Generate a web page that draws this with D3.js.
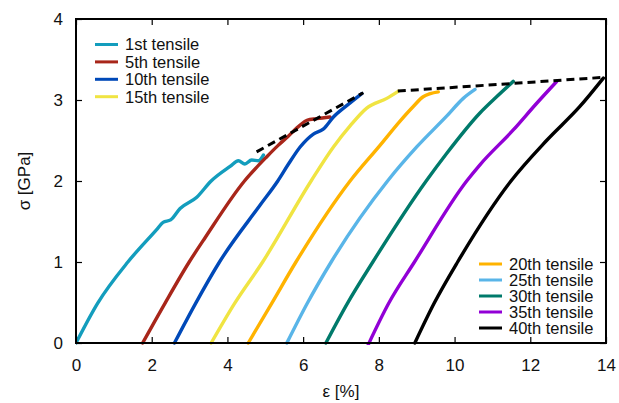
<!DOCTYPE html>
<html>
<head>
  <meta charset="utf-8">
  <title>Tensile cycles</title>
  <script src="https://unpkg.com/d3@7.8.2/dist/d3.min.js"></script>
  <style>
    body { margin: 0; background: #fff; }
    text { font-family: "Liberation Sans", Arial, sans-serif; fill: #111; }
  </style>
</head>
<body>
<script>

  // strain [%], stress [GPa] pairs
  const t1 = [[0, 0], [0.57, 0.49], [1.37, 1.0], [2.13, 1.4], [2.3, 1.49], [2.5, 1.52], [2.75, 1.66],
    [3.19, 1.8], [3.57, 2.0], [4.07, 2.18], [4.29, 2.25], [4.46, 2.21], [4.64, 2.26], [4.82, 2.25], [4.95, 2.32]];
  const t5 = [[1.76, 0], [2.35, 0.49], [2.99, 1.0], [3.41, 1.3], [4.45, 2.0], [5.04, 2.3], [5.34, 2.44],
    [5.6, 2.55], [5.92, 2.69], [6.1, 2.75], [6.36, 2.77], [6.71, 2.79]];
  const t10 = [[2.6, 0], [3.16, 0.49], [3.79, 1.0], [4.86, 1.7], [5.33, 2.0], [5.6, 2.2], [5.92, 2.42],
    [6.27, 2.58], [6.53, 2.64], [6.8, 2.79], [7.15, 2.93], [7.55, 3.08]];
  const t15 = [[3.57, 0], [4.19, 0.49], [4.93, 1.0], [6.21, 2.0], [6.8, 2.42], [7.24, 2.68], [7.68, 2.9],
    [8.21, 3.02], [8.52, 3.11]];
  const t20 = [[4.55, 0], [5.17, 0.49], [5.81, 1.0], [7.24, 2.0], [8.03, 2.44], [8.56, 2.74],
    [8.91, 2.92], [9.17, 3.04], [9.57, 3.1]];
  const t25 = [[5.57, 0], [6.11, 0.49], [6.74, 1.0], [8.23, 2.0], [9.0, 2.42], [9.79, 2.8],
    [10.23, 3.02], [10.54, 3.13]];
  const t30 = [[6.6, 0], [7.17, 0.49], [7.84, 1.0], [9.25, 2.0], [9.79, 2.34], [10.67, 2.84],
    [11.11, 3.04], [11.55, 3.23]];
  const t35 = [[7.72, -0.02], [8.26, 0.49], [8.94, 1.0], [10.32, 2.0], [10.67, 2.2], [11.55, 2.63],
    [12.17, 2.96], [12.7, 3.23]];
  const t40 = [[8.95, 0], [9.46, 0.49], [10.08, 1.0], [11.49, 2.0], [12.43, 2.5], [13.31, 2.92], [13.93, 3.27]];

  const series = [t1, t5, t10, t15, t20, t25, t30, t35, t40];
  const labels = ["1st tensile", "5th tensile", "10th tensile", "15th tensile", "20th tensile",
    "25th tensile", "30th tensile", "35th tensile", "40th tensile"];
  const colors = ["#139dbd", "#a8261a", "#0049b8", "#f0e442", "#ffb300", "#59b5e8", "#007a6b", "#9200d6", "#000000"];

  // dashed envelope lines
  const envelopes = [
    [[4.77, 2.36], [7.59, 3.09]],
    [[8.5, 3.11], [13.96, 3.28]]
  ];

  const xTicks = [0, 2, 4, 6, 8, 10, 12, 14];
  const yTicks = [0, 1, 2, 3, 4];

  const width = 619, height = 403;
  const margin = { left: 76, right: 13, top: 19, bottom: 60 };

  const svg = d3.select("body").append("svg")
    .attr("width", width)
    .attr("height", height);

  const x = d3.scaleLinear().domain([0, 14]).range([margin.left, width - margin.right]);
  const y = d3.scaleLinear().domain([0, 4]).range([height - margin.bottom, margin.top]);

  const plot = svg.append("g");

  plot.append("clipPath").attr("id", "clip")
    .append("rect")
    .attr("x", x(0)).attr("y", y(4))
    .attr("width", x(14) - x(0)).attr("height", y(0) - y(4) + 2);

  const line = d3.line()
    .x(d => x(d[0]))
    .y(d => y(d[1]))
    .curve(d3.curveMonotoneX);

  plot.append("g").attr("clip-path", "url(#clip)")
    .selectAll("path")
    .data(series)
    .enter()
    .append("path")
    .attr("d", line)
    .attr("fill", "none")
    .attr("stroke", (d, i) => colors[i])
    .attr("stroke-width", 3.4)
    .attr("stroke-linejoin", "round")
    .attr("stroke-linecap", "round");

  plot.selectAll("path.env")
    .data(envelopes)
    .enter()
    .append("path")
    .attr("class", "env")
    .attr("d", d3.line().x(d => x(d[0])).y(d => y(d[1])))
    .attr("fill", "none")
    .attr("stroke", "#000")
    .attr("stroke-width", 3)
    .attr("stroke-dasharray", "8,5");

  // axes: ticks on all four sides, pointing inward
  const tk = 6;
  svg.append("g")
    .attr("transform", `translate(0,${y(0)})`)
    .call(d3.axisBottom(x).tickValues(xTicks).tickSize(-tk).tickPadding(tk + 10))
    .call(g => g.selectAll("text").attr("font-size", 17))
    .call(g => g.select(".domain").remove());
  svg.append("g")
    .attr("transform", `translate(0,${y(4)})`)
    .call(d3.axisTop(x).tickValues(xTicks).tickSize(-tk).tickFormat(""))
    .call(g => g.select(".domain").remove());
  svg.append("g")
    .attr("transform", `translate(${x(0)},0)`)
    .call(d3.axisLeft(y).tickValues(yTicks).tickFormat(d3.format("d")).tickSize(-tk).tickPadding(tk + 7))
    .call(g => g.selectAll("text").attr("font-size", 17))
    .call(g => g.select(".domain").remove());
  svg.append("g")
    .attr("transform", `translate(${x(14)},0)`)
    .call(d3.axisRight(y).tickValues(yTicks).tickSize(-tk).tickFormat(""))
    .call(g => g.select(".domain").remove());

  svg.selectAll(".tick line").attr("stroke", "#000").attr("stroke-width", 1.2);
  svg.selectAll(".tick text").attr("fill", "#111").style("font-family", "'Liberation Sans', Arial, sans-serif");

  svg.append("rect")
    .attr("x", x(0)).attr("y", y(4))
    .attr("width", x(14) - x(0)).attr("height", y(0) - y(4))
    .attr("fill", "none")
    .attr("stroke", "#000")
    .attr("stroke-width", 2);

  // axis titles
  svg.append("text")
    .attr("x", (x(0) + x(14)) / 2)
    .attr("y", 397)
    .attr("text-anchor", "middle")
    .attr("font-size", 17)
    .text("ε [%]");
  svg.append("text")
    .attr("transform", `translate(30,${(y(0) + y(4)) / 2}) rotate(-90)`)
    .attr("text-anchor", "middle")
    .attr("font-size", 17)
    .text("σ [GPa]");

  // legends
  function legend(items, x0, y0, step) {
    const g = svg.append("g");
    items.forEach((i, k) => {
      const yy = y0 + k * step;
      g.append("line")
        .attr("x1", x0).attr("x2", x0 + 23)
        .attr("y1", yy).attr("y2", yy)
        .attr("stroke", colors[i])
        .attr("stroke-width", 3);
      g.append("text")
        .attr("x", x0 + 30)
        .attr("y", yy)
        .attr("dy", "0.36em")
        .attr("font-size", 16.5)
        .text(labels[i]);
    });
  }
  legend([0, 1, 2, 3], 95, 44.5, 17.4);
  legend([4, 5, 6, 7, 8], 479, 264, 16);

</script>
</body>
</html>
